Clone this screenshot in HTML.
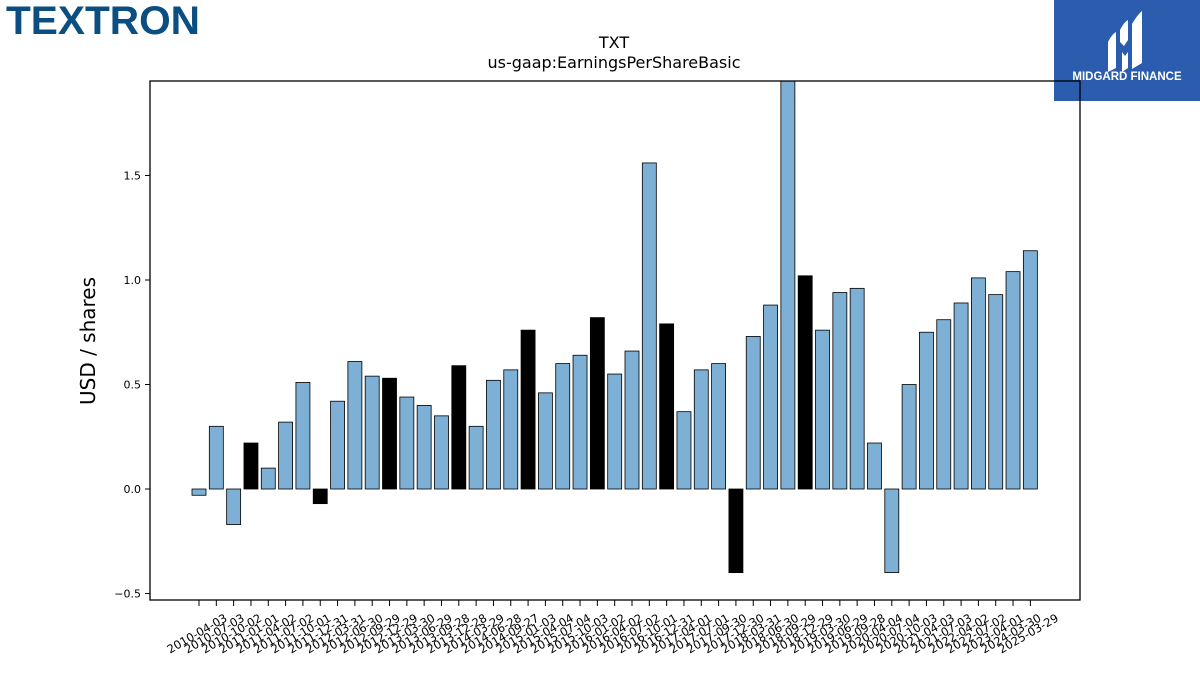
<!DOCTYPE html>
<html><head><meta charset="utf-8"><style>
body{margin:0;width:1200px;height:675px;background:#fff;overflow:hidden;font-family:"Liberation Sans","DejaVu Sans",sans-serif;}
</style></head><body>
<svg id="chart" width="1200" height="675" xmlns="http://www.w3.org/2000/svg">
<text x="6" y="34" font-family="Liberation Sans, sans-serif" font-weight="bold" font-size="40" fill="#0b4f82" textLength="194" lengthAdjust="spacingAndGlyphs">TEXTRON</text>
<g>
<rect x="1054" y="0" width="146" height="101" fill="#2b5cae"/>
<path d="M1108 42 q4-8 8-10 v36 l-8 4z M1120 30 q4-8 8-10 v20 l-4 6 l-4-4z M1122 52 l3 4 l3-4 v16 l-6 4z M1132 24 q6-10 10-13 v52 l-10 6z" fill="#fff"/>
<text x="1127" y="80" text-anchor="middle" font-weight="bold" font-size="11.5" fill="#fff">MIDGARD FINANCE</text>
</g>
<text x="614" y="48" text-anchor="middle" font-size="16" font-family="DejaVu Sans, sans-serif">TXT</text>
<text x="614" y="68" text-anchor="middle" font-size="16" font-family="DejaVu Sans, sans-serif">us-gaap:EarningsPerShareBasic</text>
<text transform="translate(95,341) rotate(-90)" text-anchor="middle" font-size="20" font-family="DejaVu Sans, sans-serif">USD / shares</text>
<g id="plot"></g>
</svg>
<script>
const categories=["2010-04-03","2010-07-03","2010-10-02","2011-01-01","2011-04-02","2011-07-02","2011-10-01","2011-12-31","2012-03-31","2012-06-30","2012-09-29","2012-12-29","2013-03-30","2013-06-29","2013-09-28","2013-12-28","2014-03-29","2014-06-28","2014-09-27","2015-01-03","2015-04-04","2015-07-04","2015-10-03","2016-01-02","2016-04-02","2016-07-02","2016-10-01","2016-12-31","2017-04-01","2017-07-01","2017-09-30","2017-12-30","2018-03-31","2018-06-30","2018-09-29","2018-12-29","2019-03-30","2019-06-29","2019-09-28","2020-04-04","2020-07-04","2020-10-03","2021-04-03","2021-07-03","2022-04-02","2022-07-02","2023-04-01","2024-03-30","2025-03-29"];
const values=[-0.03,0.30,-0.17,0.22,0.10,0.32,0.51,-0.07,0.42,0.61,0.54,0.53,0.44,0.40,0.35,0.59,0.30,0.52,0.57,0.76,0.46,0.60,0.64,0.82,0.55,0.66,1.56,0.79,0.37,0.57,0.60,-0.40,0.73,0.88,1.96,1.02,0.76,0.94,0.96,0.22,-0.40,0.50,0.75,0.81,0.89,1.01,0.93,1.04,1.14];
const annual=[3,7,11,15,19,23,27,31,35];
const yTicks=[-0.5,0.0,0.5,1.0,1.5];
const yTickLabels=["\u22120.5","0.0","0.5","1.0","1.5"];
</script>
<script>
(function(){
const NS="http://www.w3.org/2000/svg";
const g=document.getElementById('plot');
const L=150,R=1080,T=81,B=600,ymin=-0.531,ymax=1.952;
const n=values.length;
const step=17.32,x0=199;
const X=i=>x0+i*step;
const Y=v=>B-(v-ymin)/(ymax-ymin)*(B-T);
function mk(tag,attrs){const e=document.createElementNS(NS,tag);for(const k in attrs)e.setAttribute(k,attrs[k]);g.appendChild(e);return e;}
const clip=document.createElementNS(NS,'clipPath');clip.setAttribute('id','pc');
const cr=document.createElementNS(NS,'rect');cr.setAttribute('x',L);cr.setAttribute('y',T);cr.setAttribute('width',R-L);cr.setAttribute('height',B-T);clip.appendChild(cr);g.appendChild(clip);
values.forEach((v,i)=>{
 const y0=Y(0),y1=Y(v);
 const r=mk('rect',{x:X(i)-7,y:Math.min(y0,y1),width:14,height:Math.abs(y1-y0),fill:annual.includes(i)?'#000':'#7eafd4',stroke:'#000','stroke-width':0.8,'clip-path':'url(#pc)'});
 
 
 mk('line',{x1:X(i),x2:X(i),y1:B,y2:B+6,stroke:'#000','stroke-width':1});
});
categories.forEach((c,i)=>{
 const t=mk('text',{transform:`translate(${X(i)},${B+37}) rotate(-30)`,'text-anchor':'middle','font-size':11.5,'font-family':'DejaVu Sans, sans-serif'});
 t.textContent=c;
 
 
});
yTicks.forEach((v,i)=>{
 mk('line',{x1:L-5,x2:L,y1:Y(v),y2:Y(v),stroke:'#000','stroke-width':1});
 const t=mk('text',{x:L-9,y:Y(v)+4,'text-anchor':'end','font-size':11,'font-family':'DejaVu Sans, sans-serif'});
 t.textContent=yTickLabels[i];
 
 
});
const f=mk('rect',{x:L,y:T,width:R-L,height:B-T,fill:'none',stroke:'#000','stroke-width':1.3});


})();
</script>
</body></html>
